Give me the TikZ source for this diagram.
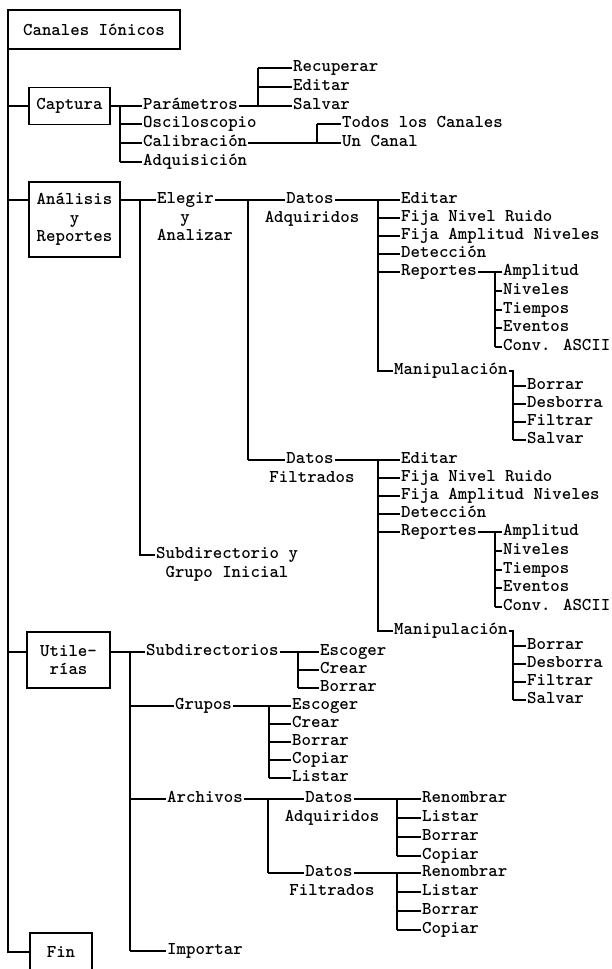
\documentclass[tikz,border=0pt]{standalone}
\usetikzlibrary{positioning}
\newcommand{\menufont}{\fontsize{18}{18.5}\selectfont\ttfamily\bfseries}
\tikzset{
  item/.style={anchor=west, inner sep=1pt, text height=10pt, text depth=3pt, font=\menufont},
  caja/.style={draw, line width=1.2pt, inner sep=2pt, outer sep=0pt, align=center, font=\menufont},
  rama/.style={line width=1.1pt}
}
\begin{document}
\begin{tikzpicture}[x=1pt,y=-1pt]
\useasboundingbox (0,0) rectangle (611,969);
\clip (0,0) rectangle (611,969);

% cajas del menu principal
\node[caja, anchor=north west, minimum width=172pt, minimum height=39pt] (nCan) at (8,10) {Canales Iónicos};
\node[caja, minimum width=81pt, minimum height=37pt] (nCap) at (69.5,106) {Captura};
\node[caja, minimum width=91pt, minimum height=75pt] (nAna) at (74.5,219.5) {Análisis\\y\\Reportes};
\node[caja, minimum width=83pt, minimum height=56pt] (nUti) at (68.5,660) {Utile-\\rías};
\node[caja, minimum width=62pt, minimum height=38pt] (nFin) at (61,952) {Fin};

\coordinate (cCapPt) at (8,106);
\coordinate (cAnaPt) at (8,200);
\coordinate (cUtiPt) at (8,652);
\coordinate (cFinPt) at (8,952);

\draw[rama] (nCan.south west) -- (cFinPt) -- (nFin.west);
\draw[rama] (cCapPt) -- (nCap.west);
\draw[rama] (cAnaPt) -- (cAnaPt -| nAna.west);
\draw[rama] (cUtiPt) -- (cUtiPt -| nUti.west);

% Captura
\foreach \n/\y/\t in 
{Par/106/Parámetros,
    Osc/124/Osciloscopio,
    Cal/143/Calibración,
    Adq/162/Adquisición
}
{
    \coordinate (c\n Pt) at (120,\y);
    \node[item] (n\n) at (142,\y) {\t};
    \draw[rama] (c\n Pt) -- (n\n);
};
\draw[rama] (nCap) -- (cParPt) -- (cAdqPt);

\foreach \n/\y/\t in 
{pRec/68/Recuperar,
    pEdi/87/Editar,
    pSal/106/Salvar
}
{
    \coordinate (c\n Pt) at (258,\y);
    \node[item] (n\n) at (292,\y) {\t};
    \draw[rama] (c\n Pt) -- (n\n);
};
\draw[rama] (nPar) -- (cpSalPt) -- (cpRecPt);

\foreach \n/\y/\t in 
{Tod/124/Todos los Canales,
    Uno/143/Un Canal
}
{
    \coordinate (c\n Pt) at (317,\y);
    \node[item] (n\n) at (341,\y) {\t};
    \draw[rama] (c\n Pt) -- (n\n);
};
\draw[rama] (nCal) -- (cUnoPt) -- (cTodPt);

% Analisis y Reportes
\coordinate (cElePt) at (140,200);
\coordinate (cSdiPt) at (140,555);
\node[item] (nEle) at (156,200) {Elegir};
\node[item, anchor=center] (nEleY) at (185,219) {y};
\node[item] (nEleA) at (156,237) {Analizar};
\node[item] (nSdi) at (155,555) {Subdirectorio y};
\node[item, anchor=center] (nSdiG) at (227,574) {Grupo Inicial};
\draw[rama] (cAnaPt -| nAna.east) -- (cElePt) -- (nEle);
\draw[rama] (cElePt) -- (cSdiPt) -- (nSdi);

\coordinate (cDatAPt) at (248,200);
\coordinate (cDatFPt) at (248,460);
\draw[rama] (nEle) -- (cDatAPt) -- (cDatFPt);

\foreach \s/\dy/\w in {A/0/Adquiridos, F/260/Filtrados}
{
    \node[item, anchor=center] (nDat\s) at (310,200+\dy) {Datos};
    \node[item, anchor=center] (nDat\s 2) at (312,219+\dy) {\w};
    \draw[rama] (cDat\s Pt) -- (nDat\s);

    \foreach \n/\y/\t in 
    {Edi/200/Editar,
        Fnr/218/Fija Nivel Ruido,
        Fan/236/Fija Amplitud Niveles,
        Det/254/Detección,
        Rep/272/Reportes
    }
    {
        \coordinate (c\n\s Pt) at (378,\y+\dy);
        \node[item] (n\n\s) at (400,\y+\dy) {\t};
        \draw[rama] (c\n\s Pt) -- (n\n\s);
    };
    \coordinate (cMan\s Pt) at (378,371+\dy);
    \node[item] (nMan\s) at (393,371+\dy) {Manipulación};
    \draw[rama] (nDat\s) -- (cEdi\s Pt) -- (cMan\s Pt) -- (nMan\s);

    \foreach \n/\y/\t in 
    {Amp/272/Amplitud,
        Niv/291/Niveles,
        Tie/310/Tiempos,
        Eve/328/Eventos,
        Con/347/Conv. ASCII
    }
    {
        \coordinate (c\n\s Pt) at (495,\y+\dy);
        \node[item] (n\n\s) at (502,\y+\dy) {\t};
        \draw[rama] (c\n\s Pt) -- (n\n\s);
    };
    \draw[rama] (nRep\s) -- (cAmp\s Pt) -- (cCon\s Pt);

    \foreach \n/\y/\t in 
    {Bor/386/Borrar,
        Des/404/Desborra,
        Fil/422/Filtrar,
        Slv/440/Salvar
    }
    {
        \coordinate (c\n\s Pt) at (513,\y+\dy);
        \node[item] (n\n\s) at (526,\y+\dy) {\t};
        \draw[rama] (c\n\s Pt) -- (n\n\s);
    };
    \coordinate (cMcn\s Pt) at (513,371+\dy);
    \draw[rama] (nMan\s) -- (cMcn\s Pt) -- (cSlv\s Pt);
};

% Utilerias
\foreach \n/\y/\x/\t in 
{Sub/652/145/Subdirectorios,
    Gru/706/174/Grupos,
    Arc/799/166/Archivos,
    Imp/951/166/Importar
}
{
    \coordinate (c\n Pt) at (130,\y);
    \node[item] (n\n) at (\x,\y) {\t};
    \draw[rama] (c\n Pt) -- (n\n);
};
\draw[rama] (cUtiPt -| nUti.east) -- (cSubPt) -- (cImpPt);

\foreach \n/\y/\t in 
{sEsc/652/Escoger,
    sCre/670/Crear,
    sBor/688/Borrar
}
{
    \coordinate (c\n Pt) at (298,\y);
    \node[item] (n\n) at (319,\y) {\t};
    \draw[rama] (c\n Pt) -- (n\n);
};
\draw[rama] (nSub) -- (csEscPt) -- (csBorPt);

\foreach \n/\y/\t in 
{gEsc/706/Escoger,
    gCre/724/Crear,
    gBor/742/Borrar,
    gCop/760/Copiar,
    gLis/778/Listar
}
{
    \coordinate (c\n Pt) at (269,\y);
    \node[item] (n\n) at (291,\y) {\t};
    \draw[rama] (c\n Pt) -- (n\n);
};
\draw[rama] (nGru) -- (cgEscPt) -- (cgLisPt);

\coordinate (caDatAPt) at (268,799);
\coordinate (caDatFPt) at (268,873);
\draw[rama] (nArc) -- (caDatAPt) -- (caDatFPt);

\foreach \s/\dy/\w in {A/0/Adquiridos, F/74/Filtrados}
{
    \node[item, anchor=center] (naDat\s) at (329,799+\dy) {Datos};
    \node[item, anchor=center] (naDat\s 2) at (332,818+\dy) {\w};
    \draw[rama] (caDat\s Pt) -- (naDat\s);

    \foreach \n/\y/\t in 
    {Ren/799/Renombrar,
        Lis/818/Listar,
        Bor/837/Borrar,
        Cop/856/Copiar
    }
    {
        \coordinate (ca\n\s Pt) at (397,\y+\dy);
        \node[item] (na\n\s) at (421,\y+\dy) {\t};
        \draw[rama] (ca\n\s Pt) -- (na\n\s);
    };
    \draw[rama] (naDat\s) -- (caRen\s Pt) -- (caCop\s Pt);
};

\end{tikzpicture}
\end{document}
